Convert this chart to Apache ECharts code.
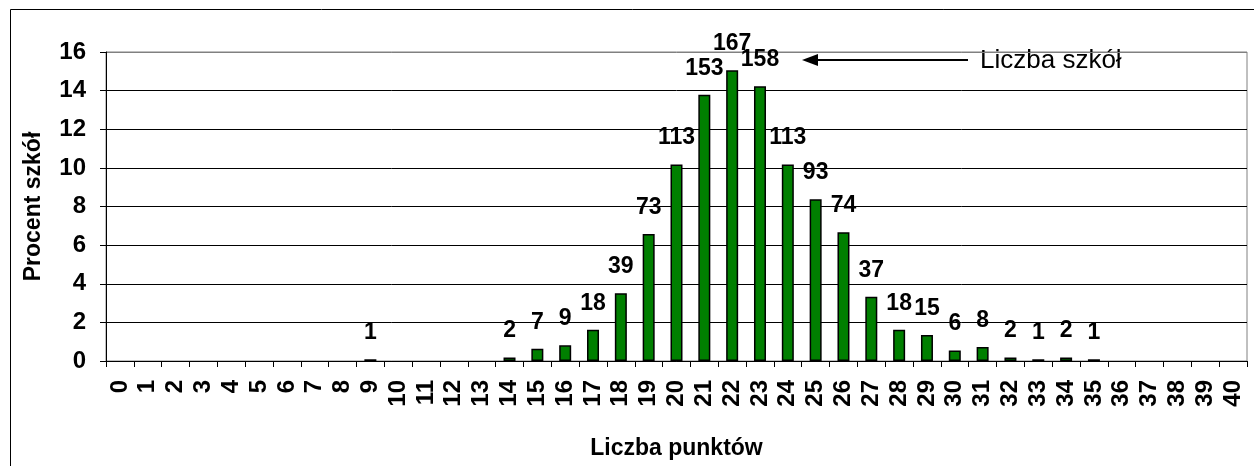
<!DOCTYPE html>
<html>
<head>
<meta charset="utf-8">
<script src="https://cdn.jsdelivr.net/npm/echarts@6/dist/echarts.min.js"></script>
<style>
  body { margin: 0; background: #fff; }
  #main { width: 1254px; height: 466px; }
</style>
</head>
<body>
<div id="main"></div>
<script>
// liczba punktów 0..40
var punkty = [];
for (var i = 0; i <= 40; i++) punkty.push(String(i));

// procent szkół, null = brak słupka
var procent = [
  null, null, null, null, null, null, null, null, null, 0.09,
  null, null, null, null, 0.18, 0.63, 0.81, 1.62, 3.51, 6.58,
  10.18, 13.78, 15.05, 14.23, 10.18, 8.38, 6.67, 3.33, 1.62, 1.35,
  0.54, 0.72, 0.18, 0.09, 0.18, 0.09, null, null, null, null, null
];
// liczba szkół - etykiety nad słupkami
var liczba = [
  null, null, null, null, null, null, null, null, null, 1,
  null, null, null, null, 2, 7, 9, 18, 39, 73,
  113, 153, 167, 158, 113, 93, 74, 37, 18, 15,
  6, 8, 2, 1, 2, 1, null, null, null, null, null
];

var myChart = echarts.init(document.getElementById('main'));
var font = 'Liberation Sans, Arial, sans-serif';

var option = {
  backgroundColor: '#fff',
  animation: false,
  grid: {
    left: 106, top: 52, right: 7, bottom: 105,
    show: true, borderColor: '#808080', borderWidth: 1
  },
  xAxis: {
    type: 'category',
    data: punkty,
    name: 'Liczba punktów',
    nameLocation: 'middle',
    nameGap: 76,
    nameTextStyle: { fontFamily: font, fontWeight: 'bold', fontSize: 23, color: '#000' },
    axisLine: { lineStyle: { color: '#000', width: 1 } },
    axisTick: { show: true, interval: 0, length: 6, lineStyle: { color: '#000' } },
    axisLabel: {
      interval: 0, rotate: 90, margin: 19,
      fontFamily: font, fontWeight: 'bold', fontSize: 24, color: '#000'
    }
  },
  yAxis: {
    type: 'value',
    min: 0, max: 16, interval: 2,
    name: 'Procent szkół',
    nameLocation: 'middle',
    nameGap: 61,
    nameTextStyle: { fontFamily: font, fontWeight: 'bold', fontSize: 23, color: '#000' },
    axisLine: { show: true, lineStyle: { color: '#000', width: 1 } },
    axisTick: { show: true, length: 6, lineStyle: { color: '#000' } },
    axisLabel: { margin: 20, fontFamily: font, fontWeight: 'bold', fontSize: 24, color: '#000' },
    splitLine: {
      show: true,
      lineStyle: { color: ['#000', '#000', '#000', '#000', '#000', '#000', '#000', '#000', '#808080'], width: 1 }
    }
  },
  series: [{
    type: 'bar',
    data: procent,
    barWidth: 12,
    itemStyle: { color: '#007f00', borderColor: '#000', borderWidth: 1.5 },
    label: {
      show: true,
      position: 'top',
      distance: 15,
      fontFamily: font, fontWeight: 'bold', fontSize: 23, color: '#000',
      formatter: function (p) {
        return liczba[p.dataIndex] == null ? '' : liczba[p.dataIndex];
      }
    }
  }],
  graphic: [
    // ramka wykresu
    { type: 'rect', shape: { x: 10.5, y: 9.5, width: 1260, height: 480 },
      style: { fill: 'none', stroke: '#000', lineWidth: 1 } },
    // strzałka z opisem
    { type: 'line', shape: { x1: 812, y1: 60, x2: 968, y2: 60 },
      style: { stroke: '#000', lineWidth: 2 } },
    { type: 'polygon', shape: { points: [[802, 60], [818, 54], [818, 66]] },
      style: { fill: '#000' } },
    { type: 'text', left: 980, top: 48,
      style: { text: 'Liczba szkół', fontFamily: font, fontSize: 26, fill: '#000' } }
  ]
};

myChart.setOption(option);
window.onresize = myChart.resize;
</script>
</body>
</html>
